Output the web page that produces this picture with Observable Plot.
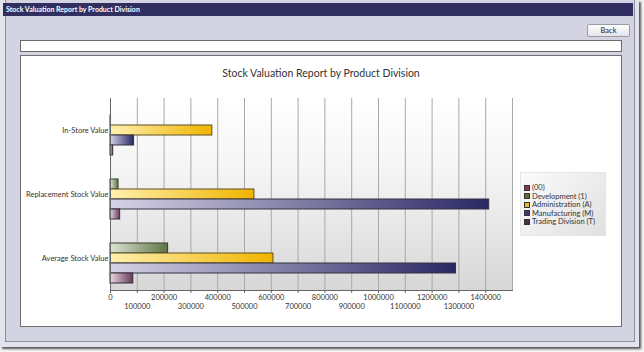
<!DOCTYPE html>
<html>
<head>
<meta charset="utf-8">
<script src="https://cdn.jsdelivr.net/npm/d3@7"></script>
<script src="https://cdn.jsdelivr.net/npm/@observablehq/plot@0.6"></script>
<style>
  html, body { margin: 0; padding: 0; }
  body { width: 644px; height: 352px; position: relative; overflow: hidden; background: #f4f4f6; font-family: Lato, "Open Sans", sans-serif; }
  #outer { position: absolute; left: 0; top: 0; width: 639px; height: 347px; background: #e3e3ec; box-shadow: 2px 2px 2px rgba(0,0,0,0.65); }
  #inner { position: absolute; left: 5px; top: 0; width: 628px; height: 341px; background: #d3d3e1; border: 1px solid #8e8e9e; border-top: none; }
  #titlebar { position: absolute; left: 3px; top: 3px; width: 630px; height: 13px; background: #302f60; color: #fff; font: bold 7px Lato, sans-serif; line-height: 13px; padding-left: 3px; box-sizing: border-box; white-space: nowrap; }
  #back { position: absolute; left: 587px; top: 24px; width: 43px; height: 13px; box-sizing: border-box; border: 1px solid #9a9aa6; border-radius: 2px; background: linear-gradient(#ffffff, #e4e4e8); font: 7.5px Lato, sans-serif; color: #222; text-align: center; line-height: 11px; }
  #inputbox { position: absolute; left: 20px; top: 40px; width: 602px; height: 12px; box-sizing: border-box; border: 1px solid #6a6a6a; background: #fff; }
  #panel { position: absolute; left: 20px; top: 55px; width: 602px; height: 272px; box-sizing: border-box; border: 1px solid #6e6e6e; background: #fff; }
  #charttitle { position: absolute; left: 0; top: 11px; width: 600px; text-align: center; font: 10.5px Lato, sans-serif; color: #333; }
  #plotbg { position: absolute; background: linear-gradient(#ffffff 0%, #f4f4f4 40%, #d7d7d7 100%); }
  #chart { position: absolute; left: 0; top: 29px; }
  #legend { position: absolute; left: 499px; top: 116px; width: 86px; height: 64px; box-sizing: border-box; background: linear-gradient(135deg, #fbfbfb, #e0e0e0); border: 1px solid #e6e6e6; padding: 11px 0 0 3px; }
  .li { font: 7.5px Lato, sans-serif; color: #333; height: 8.5px; line-height: 8.5px; white-space: nowrap; }
  .sw { display: inline-block; width: 6px; height: 6px; box-sizing: border-box; border: 1px solid #333; margin-right: 2px; vertical-align: -0.5px; }
</style>
</head>
<body>
<div id="outer"></div>
<div id="inner"></div>
<div id="titlebar">Stock Valuation Report by Product Division</div>
<div id="back">Back</div>
<div id="inputbox"></div>
<div id="panel">
  <div id="charttitle">Stock Valuation Report by Product Division</div>
  <div id="plotbg"></div>
  <div id="chart"></div>
  <div id="legend"></div>
</div>
<script>
// ---- data ----
const groups = ["In-Store Value", "Replacement Stock Value", "Average Stock Value"];
const divisions = ["(00)", "Development (1)", "Administration (A)", "Manufacturing (M)", "Trading Division (T)"];
const values00  = [0, 0, 0];
const valuesDev = [2000, 30000, 215000];
const valuesAdm = [380000, 537000, 608000];
const valuesMan = [88000, 1413000, 1289000];
const valuesTrd = [10000, 36000, 85000];
const tickEven = [0, 200000, 400000, 600000, 800000, 1000000, 1200000, 1400000];
const tickOdd  = [100000, 300000, 500000, 700000, 900000, 1100000, 1300000];
const gridTicks = [0, 100000, 200000, 300000, 400000, 500000, 600000, 700000, 800000, 900000, 1000000, 1100000, 1200000, 1300000, 1400000, 1500000];
const xMax = 1500000;

// gradient colours per division [left, right, stroke, legend swatch]
const palette = [
  ["#c88a96", "#7e2f40", "#3a2a2a", "#8a3848"],
  ["#dfe5d5", "#5d7446", "#3a3a30", "#52703c"],
  ["#fff0b0", "#f0b400", "#5e5020", "#e8b820"],
  ["#d6d3e6", "#2b2764", "#333340", "#3a3a80"],
  ["#e6d8e0", "#6a3a5c", "#3a2a36", "#4c2c4a"]
];

const series = [values00, valuesDev, valuesAdm, valuesMan, valuesTrd];
const data = [];
divisions.forEach((div, i) => groups.forEach((g, j) => data.push({group: g, division: div, value: series[i][j]})));

// ---- layout ----
const W = 600, H = 240;
const mL = 89, mR = 109, mT = 12, mB = 35;
const FONT = "Lato, 'Open Sans', sans-serif";

const bg = document.getElementById("plotbg");
bg.style.left = mL + "px";
bg.style.top = (29 + mT) + "px";
bg.style.width = (W - mL - mR) + "px";
bg.style.height = (H - mT - mB) + "px";

const plot = Plot.plot({
  width: W,
  height: H,
  marginLeft: mL,
  marginRight: mR,
  marginTop: mT,
  marginBottom: mB,
  style: {background: "transparent", fontFamily: FONT, fontSize: "7.5px", color: "#333", overflow: "visible"},
  x: {domain: [0, xMax], axis: null},
  y: {domain: divisions, paddingInner: 0.04, paddingOuter: 0.6, axis: null},
  fy: {domain: groups, padding: 0, axis: "left", tickSize: 0, tickPadding: 2, label: null},
  marks: [
    Plot.ruleX(gridTicks, {stroke: "#a9a9a9", strokeWidth: 1}),
    ...divisions.map((div, i) => Plot.barX(data.filter(d => d.division === div && d.value > 0), {
      x: "value", y: "division", fy: "group",
      fill: `url(#grad${i})`, stroke: palette[i][2], strokeWidth: 1
    })),
    Plot.ruleX([0], {stroke: "#666", strokeWidth: 1}),
    Plot.frame({anchor: "bottom", facetAnchor: "bottom", stroke: "#666"}),
    Plot.axisX({ticks: tickEven, tickSize: 3, tickPadding: 1, tickFormat: d => String(d), stroke: "#666", fill: "#333", label: null}),
    Plot.axisX({ticks: tickOdd, tickSize: 3, tickPadding: 10, tickFormat: d => String(d), stroke: "#666", fill: "#333", label: null})
  ]
});

// gradient definitions
const defs = d3.select(plot).insert("defs", ":first-child");
palette.forEach((p, i) => {
  const g = defs.append("linearGradient").attr("id", "grad" + i).attr("x1", 0).attr("x2", 1).attr("y1", 0).attr("y2", 0);
  g.append("stop").attr("offset", "0%").attr("stop-color", p[0]);
  g.append("stop").attr("offset", "100%").attr("stop-color", p[1]);
});
document.getElementById("chart").appendChild(plot);

// legend
const legend = document.getElementById("legend");
divisions.forEach((div, i) => {
  const row = document.createElement("div");
  row.className = "li";
  const sw = document.createElement("span");
  sw.className = "sw";
  sw.style.background = palette[i][3];
  row.appendChild(sw);
  row.appendChild(document.createTextNode(div));
  legend.appendChild(row);
});
</script>
</body>
</html>
